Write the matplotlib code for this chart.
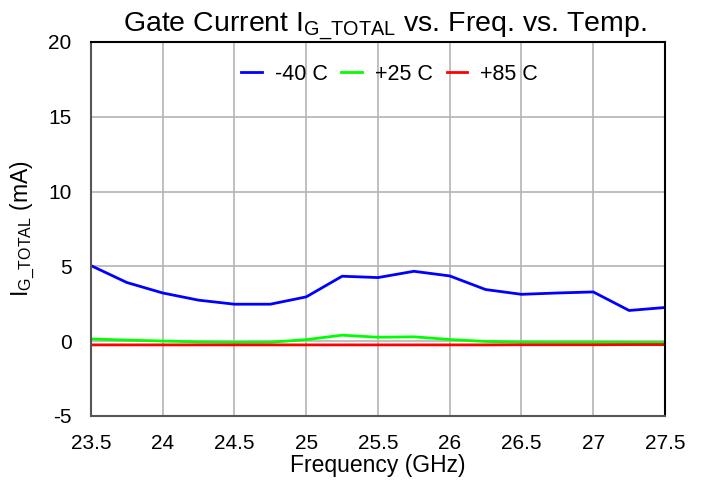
import matplotlib
matplotlib.use("Agg")
import matplotlib.pyplot as plt

plt.rcParams['font.family'] = ['Liberation Sans', 'DejaVu Sans']
plt.rcParams['mathtext.fontset'] = 'custom'
plt.rcParams['mathtext.rm'] = 'Liberation Sans'
plt.rcParams['mathtext.it'] = 'Liberation Sans'
plt.rcParams['axes.unicode_minus'] = False

freq = [23.5, 23.75, 24.0, 24.25, 24.5, 24.75, 25.0, 25.25, 25.5,
        25.75, 26.0, 26.25, 26.5, 26.75, 27.0, 27.25, 27.5]
i_m40 = [5.05, 3.92, 3.22, 2.74, 2.47, 2.47, 2.96, 4.34, 4.25,
         4.67, 4.36, 3.45, 3.13, 3.22, 3.29, 2.05, 2.25]
i_p25 = [0.15, 0.07, 0.01, -0.05, -0.08, -0.07, 0.1, 0.4, 0.26,
         0.29, 0.11, -0.02, -0.06, -0.07, -0.07, -0.08, -0.1]
i_p85 = [-0.25, -0.25, -0.25, -0.25, -0.25, -0.25, -0.25, -0.25, -0.25,
         -0.25, -0.25, -0.25, -0.24, -0.24, -0.24, -0.23, -0.23]
labels = ['-40 C', '+25 C', '+85 C']
colors = ['#0000ff', '#00ff00', '#ff0000']

fig = plt.figure(figsize=(7.02, 4.82), dpi=100)
ax = fig.add_axes([0.1296, 0.137, 0.8177, 0.776])

for y, lab, c in zip([i_m40, i_p25, i_p85], labels, colors):
    ax.plot(freq, y, color=c, lw=2, label=lab)

ax.set_xlim(23.5, 27.5)
ax.set_ylim(-5, 20)
ax.set_xticks([23.5, 24, 24.5, 25, 25.5, 26, 26.5, 27, 27.5])
ax.set_xticklabels(['23.5', '24', '24.5', '25', '25.5', '26', '26.5', '27', '27.5'])
ax.set_yticks([-5, 0, 5, 10, 15, 20])
ax.grid(True, color='#b4b4b4', lw=1.2)
ax.set_axisbelow(True)
ax.tick_params(length=0, labelsize=15)
ax.tick_params(axis='x', pad=13)
ax.tick_params(axis='y', pad=14)

for side in ['top', 'right']:
    ax.spines[side].set_color('black')
    ax.spines[side].set_linewidth(1.5)
for side in ['left', 'bottom']:
    ax.spines[side].set_color('#555555')
    ax.spines[side].set_linewidth(1.5)

ax.set_title(r'Gate Current I$_{\mathrm{G\_TOTAL}}$ vs. Freq. vs. Temp.', fontsize=20.5, pad=3,
             x=0.512)
ax.set_xlabel('Frequency (GHz)', fontsize=16.5, labelpad=1)
ax.set_ylabel(r'I$_{\mathrm{G\_TOTAL}}$ (mA)', fontsize=16.5, labelpad=8)

ax.legend(loc='upper center', bbox_to_anchor=(0.52, 0.993), ncol=3, frameon=False,
          fontsize=15.5, handlelength=0.95, columnspacing=0.65, handletextpad=0.6)

fig.savefig('out.png', dpi=100)
